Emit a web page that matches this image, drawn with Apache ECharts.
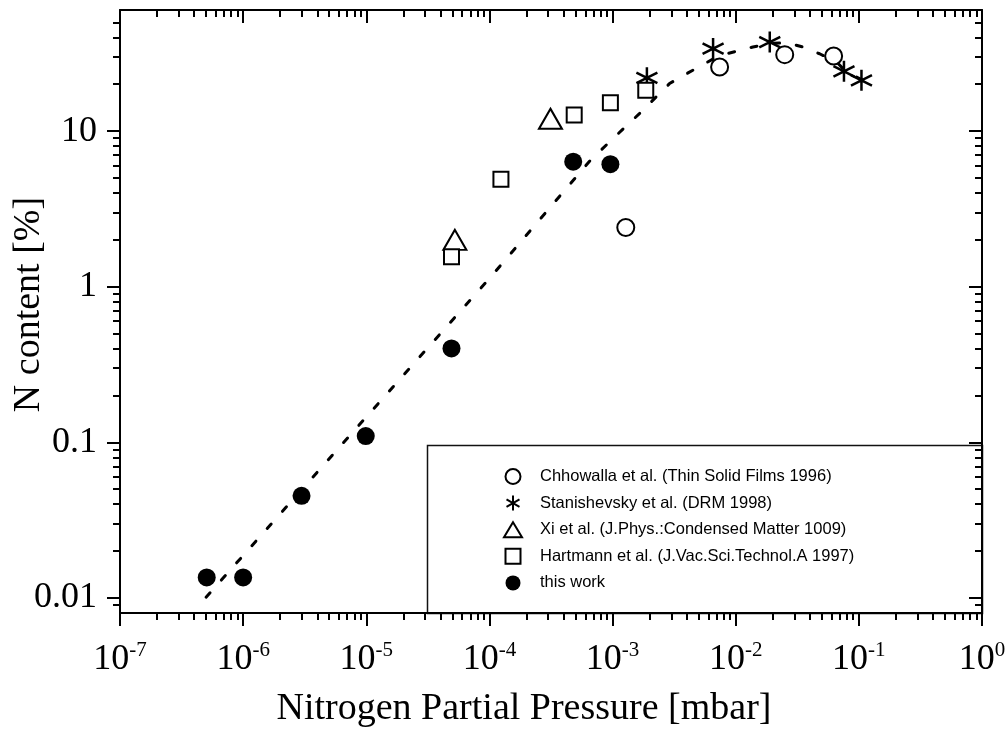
<!DOCTYPE html>
<html>
<head>
<meta charset="utf-8">
<script src="https://cdn.jsdelivr.net/npm/echarts@6/dist/echarts.min.js"></script>
<style>
html,body{margin:0;padding:0;background:#fff;}
#chart{width:1008px;height:737px;}
</style>
</head>
<body>
<div id="chart"></div>
<script>
// ---- data ----
const seriesNames = [
  'Chhowalla et al. (Thin Solid Films 1996)',
  'Stanishevsky et al. (DRM 1998)',
  'Xi et al. (J.Phys.:Condensed Matter 1009)',
  'Hartmann et al. (J.Vac.Sci.Technol.A 1997)',
  'this work'
];
const chhowallaX = [1.28e-3, 7.4e-3, 2.5e-2, 6.24e-2];
const chhowallaY = [2.4, 25.8, 31.0, 30.4];
const stanishevskyX = [1.9e-3, 6.55e-3, 1.89e-2, 7.57e-2, 1.05e-1];
const stanishevskyY = [22.0, 33.9, 37.3, 24.2, 21.2];
const xiX = [5.24e-5, 3.13e-4];
const xiY = [2.0, 12.0];
const hartmannX = [4.92e-5, 1.24e-4, 4.88e-4, 9.6e-4, 1.86e-3];
const hartmannY = [1.56, 4.9, 12.7, 15.2, 18.3];
const thisWorkX = [5.06e-7, 1.0e-6, 2.98e-6, 9.9e-6, 4.92e-5, 4.79e-4, 9.6e-4];
const thisWorkY = [0.01355, 0.01355, 0.0453, 0.1096, 0.401, 6.36, 6.13];
// dotted guide curve
const fitX = [5.0e-7, 1.0e-4, 6.5e-4, 1.0e-3, 1.66e-3, 2.9e-3, 4.0e-3, 5.4e-3, 7.4e-3, 1.0e-2, 1.38e-2, 1.9e-2, 2.6e-2, 3.5e-2, 4.8e-2, 6.6e-2, 7.7e-2, 1.05e-1];
const fitY = [0.0101, 1.13, 6.4, 8.9, 13.0, 20.2, 23.4, 26.7, 30.6, 32.5, 34.7, 36.6, 37.0, 34.7, 31.4, 27.8, 24.5, 21.4];
// axes
const xTickValues = [1e-7, 1e-6, 1e-5, 1e-4, 1e-3, 1e-2, 1e-1, 1];
const xTickExps = ['-7', '-6', '-5', '-4', '-3', '-2', '-1', '0'];
const yTickValues = [0.01, 0.1, 1, 10];
const yTickLabels = ['0.01', '0.1', '1', '10'];
const xMin = 1e-7, xMax = 1, yMin = 0.008, yMax = 60;

// minor tick positions (2..9 per decade)
const xMinor = [];
for (let d = -7; d < 0; d++) for (let k = 2; k <= 9; k++) xMinor.push(k * Math.pow(10, d));
const yMinor = [0.009];
for (let d = -2; d <= 1; d++) for (let k = 2; k <= 9; k++) { const v = k * Math.pow(10, d); if (v <= 50) yMinor.push(v); }

const zip = (a, b) => a.map((v, i) => [v, b[i]]);

const serif = '"Liberation Serif", "Times New Roman", serif';
const sans = '"Liberation Sans", Arial, sans-serif';

function xAxisDef(position, major, labels) {
  const inside = position === 'top';
  return {
    type: 'log', logBase: 10, min: xMin, max: xMax, position: position, gridIndex: 0,
    axisLine: { show: major, onZero: false, lineStyle: { color: '#000', width: 2 } },
    axisTick: { show: true, inside: inside, length: major ? 13 : 7,
      customValues: major ? xTickValues : xMinor,
      lineStyle: { color: '#000', width: 2 } },
    axisLabel: labels ? {
      show: true, margin: 27, customValues: xTickValues,
      formatter: function (v) {
        const i = xTickValues.findIndex(t => Math.abs(Math.log10(t) - Math.log10(v)) < 1e-6);
        return '{b|10}{s|' + xTickExps[i] + '}';
      },
      rich: {
        b: { fontFamily: serif, fontSize: 36, color: '#000', verticalAlign: 'bottom', lineHeight: 38 },
        s: { fontFamily: serif, fontSize: 21, color: '#000', verticalAlign: 'top', lineHeight: 21 }
      }
    } : { show: false },
    splitLine: { show: false },
    minorTick: { show: false }, minorSplitLine: { show: false }
  };
}
function yAxisDef(position, major, labels) {
  const inside = position === 'right';
  return {
    type: 'log', logBase: 10, min: yMin, max: yMax, position: position, gridIndex: 0,
    axisLine: { show: major, onZero: false, lineStyle: { color: '#000', width: 2 } },
    axisTick: { show: true, inside: inside, length: major ? 13 : 7,
      customValues: major ? yTickValues : yMinor,
      lineStyle: { color: '#000', width: 2 } },
    axisLabel: labels ? {
      show: true, margin: 23, customValues: yTickValues,
      formatter: function (v) {
        const i = yTickValues.findIndex(t => Math.abs(Math.log10(t) - Math.log10(v)) < 1e-6);
        return yTickLabels[i];
      },
      fontFamily: serif, fontSize: 36, color: '#000'
    } : { show: false },
    splitLine: { show: false },
    minorTick: { show: false }, minorSplitLine: { show: false }
  };
}

const asterisk = 'path://M10,0L10,20M1.34,5L18.66,15M1.34,15L18.66,5';
const squareIcon = 'path://M0,0L10,0L10,10L0,10Z';
const triangleIcon = 'path://M6,0L12,10L0,10Z';

const chart = echarts.init(document.getElementById('chart'), null, { renderer: 'canvas' });
chart.setOption({
  backgroundColor: '#fff',
  animation: false,
  grid: { left: 120, right: 26, top: 10, bottom: 124, containLabel: false, outerBoundsMode: 'none' },
  xAxis: [xAxisDef('bottom', true, true), xAxisDef('bottom', false, false), xAxisDef('top', true, false), xAxisDef('top', false, false)],
  yAxis: [yAxisDef('left', true, true), yAxisDef('left', false, false), yAxisDef('right', true, false), yAxisDef('right', false, false)],
  legend: {
    orient: 'vertical', left: 503, top: 468, itemWidth: 22, itemHeight: 15, itemGap: 9.6,
    selectedMode: false, padding: 0, symbolKeepAspect: true,
    textStyle: { fontFamily: sans, fontSize: 16.5, color: '#000', lineHeight: 15, padding: [0, 0, 0, 11] },
    data: [
      { name: seriesNames[0], icon: 'circle' },
      { name: seriesNames[1], icon: asterisk },
      { name: seriesNames[2], icon: triangleIcon },
      { name: seriesNames[3], icon: squareIcon },
      { name: seriesNames[4], icon: 'circle' }
    ]
  },
  graphic: [
    { type: 'rect', z: -1, shape: { x: 427.5, y: 445.5, width: 555, height: 168 },
      style: { fill: '#fff', stroke: '#111', lineWidth: 1.5 } },
    { type: 'text', x: 524, y: 709, style: { text: 'Nitrogen Partial Pressure [mbar]', font: '38px ' + serif, fill: '#000', textAlign: 'center', textVerticalAlign: 'middle' } },
    { type: 'text', x: 29.5, y: 304.5, rotation: Math.PI / 2, style: { text: 'N content [%]', font: '38px ' + serif, fill: '#000', textAlign: 'center', textVerticalAlign: 'middle' } }
  ],
  series: [
    { name: 'fit', type: 'line', data: zip(fitX, fitY), symbol: 'none', silent: true, z: 1,
      lineStyle: { color: '#000', width: 3, type: [6, 17], cap: 'round' } },
    { name: seriesNames[0], type: 'scatter', data: zip(chhowallaX, chhowallaY), symbol: 'circle', symbolSize: 17, z: 3,
      itemStyle: { color: '#fff', borderColor: '#000', borderWidth: 2, opacity: 1 } },
    { name: seriesNames[1], type: 'scatter', data: zip(stanishevskyX, stanishevskyY), symbol: asterisk, symbolSize: 21, z: 3,
      itemStyle: { color: '#000', borderColor: '#000', borderWidth: 2.5, opacity: 1 } },
    { name: seriesNames[2], type: 'scatter', data: zip(xiX, xiY), symbol: 'triangle', symbolSize: [23, 20], z: 3,
      itemStyle: { color: '#fff', borderColor: '#000', borderWidth: 2, opacity: 1 } },
    { name: seriesNames[3], type: 'scatter', data: zip(hartmannX, hartmannY), symbol: 'rect', symbolSize: 15, z: 3,
      itemStyle: { color: '#fff', borderColor: '#000', borderWidth: 2, opacity: 1 } },
    { name: seriesNames[4], type: 'scatter', data: zip(thisWorkX, thisWorkY), symbol: 'circle', symbolSize: 18, z: 4,
      itemStyle: { color: '#000', borderWidth: 0, opacity: 1 } }
  ]
});
</script>
</body>
</html>
